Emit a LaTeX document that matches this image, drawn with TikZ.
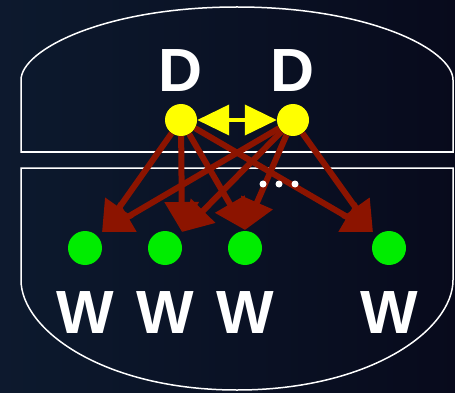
\documentclass[tikz,border=0pt]{standalone}
\usepackage{fontspec}
\setmainfont{Liberation Sans}
\usetikzlibrary{arrows.meta}
\definecolor{BgLeftClr}{rgb}{0.05,0.1,0.18}
\definecolor{BgRightClr}{rgb}{0.03,0.04,0.11}
\definecolor{LinkClr}{rgb}{0.55,0.08,0}
\definecolor{DClr}{rgb}{1,1,0}
\definecolor{WClr}{rgb}{0,0.93,0}

\begin{document}
\begin{tikzpicture}[x=1pt,y=-1pt,
  shell/.style={draw=white,line width=1.5pt},
  dnode/.style={circle,fill=DClr,minimum size=32pt,inner sep=0pt},
  wnode/.style={circle,fill=WClr,minimum size=34pt,inner sep=0pt},
  lbl/.style={text=white,anchor=base,inner sep=0pt,font=\bfseries\fontsize{61}{61}\selectfont},
  link/.style={draw=LinkClr,line width=6pt,-{Triangle[length=30pt,width=33pt]}},
  sync/.style={draw=DClr,line width=4pt,{Triangle[length=32pt,width=30pt]}-{Triangle[length=32pt,width=30pt]}}]
\useasboundingbox (0,0) rectangle (455,393);
\shade[left color=BgLeftClr,right color=BgRightClr] (0,0) rectangle (455,393);

\draw[shell] (21,152) -- (21,80) .. controls (21,50) and (104,7) .. (237,7)
  .. controls (370,7) and (453,50) .. (453,80) -- (453,152) -- cycle;
\draw[shell] (21,168) -- (21,280) .. controls (21,330) and (104,390) .. (237,390)
  .. controls (370,390) and (453,330) .. (453,280) -- (453,168) -- cycle;

\node[dnode] (d1) at (181,120) {};
\node[dnode] (d2) at (293,120) {};
\node[wnode] (w1) at (85,248) {};
\node[wnode] (w2) at (165,248) {};
\node[wnode] (w3) at (245,248) {};
\node[wnode] (w4) at (389,248) {};

\coordinate (t1) at (102,232);
\coordinate (t2) at (182,232);
\coordinate (t3) at (245,230);
\coordinate (t4) at (373,232);

\draw[link] (d1) -- (t1);
\draw[link] (d1) -- (t2);
\draw[link] (d1) -- (t3);
\draw[link] (d1) -- (t4);
\draw[link] (d2) -- (t1);
\draw[link] (d2) -- (t2);
\draw[link] (d2) -- (t3);
\draw[link] (d2) -- (t4);

\draw[sync] (d1) -- (d2);

\fill[white] (263,184) circle (3.5) (279,184) circle (3.5) (295,184) circle (3.5);

\node[lbl] (ld1) at (181,92) {D};
\node[lbl] (ld2) at (293,92) {D};
\node[lbl] (lw1) at (85,333) {W};
\node[lbl] (lw2) at (165,333) {W};
\node[lbl] (lw3) at (245,333) {W};
\node[lbl] (lw4) at (389,333) {W};

\end{tikzpicture}
\end{document}
